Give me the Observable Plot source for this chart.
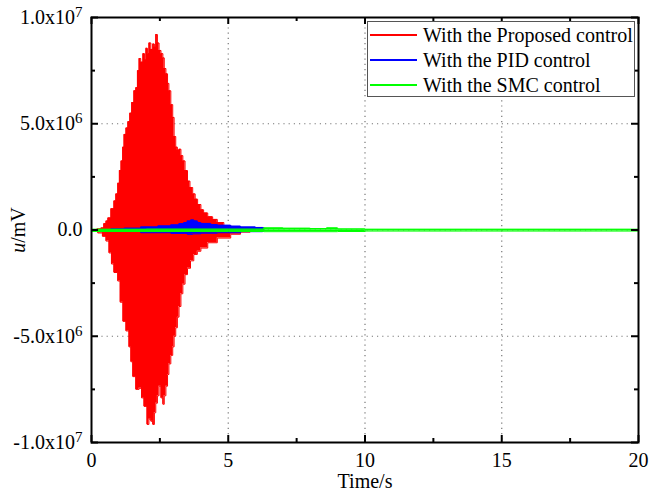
<!DOCTYPE html>
<html>
<head>
<meta charset="utf-8">
<script src="https://cdn.jsdelivr.net/npm/d3@7"></script>
<script src="https://cdn.jsdelivr.net/npm/@observablehq/plot@0.6"></script>
<style>
  body { margin: 0; background: white; }
  #wrap { position: relative; width: 649px; height: 491px; font-family: "Liberation Serif", "Times New Roman", serif; }
  #legend { position: absolute; left: 367px; top: 21px; width: 268px; height: 76px; border: 1px solid #555; background: white; box-sizing: border-box; }
  .item { position: absolute; left: 0; height: 25px; display: flex; align-items: center; font-size: 20px; color: #000; white-space: nowrap; }
  .sw { width: 47px; height: 2px; margin-left: 2px; margin-right: 6px; }
</style>
</head>
<body>
<div id="wrap"></div>
<script>
// Values in units of 1e6 mV; time in s. Envelopes.
const redUpper = [[0,0],[0.2,0.05],[0.35,0.1],[0.45,0.3],[0.53,0.42],[0.6,0.57],[0.71,1.0],[0.82,1.37],[0.89,1.7],[0.96,2.2],[1.02,2.8],[1.08,3.25],[1.14,3.9],[1.19,4.5],[1.26,4.8],[1.33,5.1],[1.4,5.5],[1.47,6.0],[1.55,6.55],[1.62,6.7],[1.68,7.5],[1.74,8.07],[1.8,7.9],[1.88,8.3],[1.94,8.0],[1.99,8.55],[2.05,8.3],[2.1,8.8],[2.17,8.5],[2.24,8.75],[2.3,8.6],[2.35,9.2],[2.41,8.8],[2.47,8.45],[2.54,8.3],[2.61,8.1],[2.66,7.6],[2.72,7.35],[2.78,6.9],[2.83,6.55],[2.9,5.9],[2.97,5.3],[3.02,4.4],[3.08,3.9],[3.14,3.75],[3.2,3.8],[3.27,3.5],[3.34,3.25],[3.42,2.8],[3.51,2.3],[3.6,2.0],[3.7,1.7],[3.79,1.45],[3.88,1.2],[4.0,0.95],[4.1,0.8],[4.25,0.62],[4.43,0.5],[4.6,0.35],[4.84,0.2],[5.1,0.12],[5.45,0.06],[5.8,0.02],[6.0,0]];
const redLower = [[0,0],[0.23,-0.14],[0.4,-0.3],[0.53,-0.52],[0.64,-1.08],[0.73,-1.6],[0.82,-2.0],[0.96,-2.4],[1.05,-3.4],[1.15,-4.3],[1.26,-4.75],[1.37,-5.5],[1.44,-6.2],[1.51,-6.9],[1.62,-7.5],[1.74,-7.45],[1.83,-7.9],[1.92,-8.3],[2.03,-9.15],[2.1,-8.9],[2.17,-9.0],[2.24,-9.15],[2.3,-8.6],[2.35,-8.15],[2.41,-7.8],[2.47,-7.35],[2.54,-7.9],[2.61,-8.2],[2.66,-7.8],[2.72,-7.35],[2.78,-6.8],[2.83,-6.3],[2.9,-5.9],[2.97,-5.5],[3.02,-5.0],[3.08,-4.6],[3.14,-4.1],[3.2,-3.6],[3.27,-3.0],[3.34,-2.55],[3.42,-2.1],[3.51,-1.8],[3.62,-1.45],[3.74,-1.15],[3.87,-1.0],[4.0,-0.85],[4.25,-0.6],[4.6,-0.38],[5.09,-0.2],[5.45,-0.1],[5.8,-0.03],[6.0,0]];
const blueUpper = [[0,0],[0.3,0.02],[0.71,0.05],[1.2,0.08],[1.8,0.14],[2.43,0.19],[2.9,0.24],[3.2,0.3],[3.38,0.35],[3.5,0.42],[3.63,0.47],[3.75,0.42],[3.88,0.35],[4.0,0.31],[4.36,0.26],[4.6,0.22],[5.09,0.18],[5.45,0.14],[6.0,0.12],[6.26,0.11],[6.3,0]];
const blueLower = [[0,0],[0.7,-0.04],[1.8,-0.13],[2.9,-0.16],[3.5,-0.2],[3.7,-0.18],[4.0,-0.15],[4.6,-0.13],[5.45,-0.08],[6.26,-0.05],[6.3,0]];
const greenUpper = [[0,0.03],[2,0.04],[5,0.04],[6.3,0.1],[7,0.08],[8,0.07],[8.6,0.1],[9,0.05],[10,0.03],[20,0.03]];
const greenLower = [[0,-0.07],[5,-0.07],[6.3,-0.08],[9,-0.07],[10,-0.05],[20,-0.05]];

const xTicks = [0, 5, 10, 15, 20];
const xMinor = [2.5, 7.5, 12.5, 17.5];
const yTicks = [-1e7, -5e6, 0, 5e6, 1e7];
const yTickLabels = ["-1.0x10^7", "-5.0x10^6", "0.0", "5.0x10^6", "1.0x10^7"];
const yMinor = [-7.5e6, -2.5e6, 2.5e6, 7.5e6];
const series = [
  {name: "With the Proposed control", color: "#ff0000"},
  {name: "With the PID control", color: "#0000ff"},
  {name: "With the SMC control", color: "#00ff00"}
];

const toRows = arr => arr.map(([t, v]) => ({t, v: v * 1e6}));

const W = 649, H = 491, mL = 91, mR = 11, mT = 17, mB = 49;
const pw = W - mL - mR, ph = H - mT - mB;

function env(up, lo, color) {
  return [
    Plot.areaY(toRows(up), {x: "t", y: "v", fill: color, curve: "step-after"}),
    Plot.areaY(toRows(lo), {x: "t", y: "v", fill: color, curve: "step-after"}),
    Plot.lineY(toRows(up), {x: "t", y: "v", stroke: color, strokeWidth: 1, curve: "step-after"}),
    Plot.lineY(toRows(lo), {x: "t", y: "v", stroke: color, strokeWidth: 1, curve: "step-after"})
  ];
}

const chart = Plot.plot({
  width: W, height: H,
  marginLeft: mL, marginRight: mR, marginTop: mT, marginBottom: mB,
  style: {fontFamily: "Liberation Serif, Times New Roman, serif", fontSize: "20px", background: "white", color: "black"},
  x: {domain: [0, 20]},
  y: {domain: [-1e7, 1e7]},
  marks: [
    Plot.gridX([5, 10, 15], {stroke: "#777", strokeOpacity: 1, strokeWidth: 1.2, strokeDasharray: "1.2,4"}),
    Plot.gridY([-5e6, 0, 5e6], {stroke: "#777", strokeOpacity: 1, strokeWidth: 1.2, strokeDasharray: "1.2,4"}),
    ...env(redUpper, redLower, series[0].color),
    ...env(blueUpper, blueLower, series[1].color),
    ...env(greenUpper, greenLower, series[2].color),
    Plot.frame({stroke: "black", strokeWidth: 2}),
    Plot.ruleX(xTicks, {stroke: "black", strokeWidth: 2, insetTop: ph - 7}),
    Plot.ruleX(xTicks, {stroke: "black", strokeWidth: 2, insetBottom: ph - 7}),
    Plot.ruleX(xMinor, {stroke: "black", strokeWidth: 2, insetTop: ph - 4}),
    Plot.ruleX(xMinor, {stroke: "black", strokeWidth: 2, insetBottom: ph - 4}),
    Plot.ruleY(yTicks, {stroke: "black", strokeWidth: 2, insetRight: pw - 7}),
    Plot.ruleY(yTicks, {stroke: "black", strokeWidth: 2, insetLeft: pw - 7}),
    Plot.ruleY(yMinor, {stroke: "black", strokeWidth: 2, insetRight: pw - 4}),
    Plot.ruleY(yMinor, {stroke: "black", strokeWidth: 2, insetLeft: pw - 4}),
    Plot.axisX(xTicks, {tickSize: 0, tickPadding: 10, label: null, fontSize: 20, tickFormat: d => String(d)}),
    Plot.axisY(yTicks, {tickSize: 0, tickPadding: 9, label: null, fontSize: 20, className: "ytl",
      tickFormat: d => yTickLabels[yTicks.indexOf(d)]}),
    Plot.text(["Time/s"], {frameAnchor: "bottom", dy: 45, lineAnchor: "bottom", fontSize: 20, fill: "black"}),
    Plot.text(["u/mV"], {frameAnchor: "left", dx: -73, rotate: -90, textAnchor: "middle", lineAnchor: "middle", fontSize: 20, fill: "black", className: "ylab"})
  ]
});

const wrap = document.getElementById("wrap");
wrap.appendChild(chart);

// superscripts for y tick labels
d3.select(chart).selectAll("text").each(function() {
  const el = d3.select(this);
  const s = this.textContent;
  if (s.includes("^")) {
    const [base, exp] = s.split("^");
    el.text(null);
    el.append("tspan").text(base);
    el.append("tspan").attr("dy", "-0.45em").attr("font-size", "15px").text(exp);
  } else if (s === "u/mV") {
    el.text(null);
    el.append("tspan").attr("font-style", "italic").text("u");
    el.append("tspan").text("/mV");
  }
});

// legend
const lg = document.createElement("div");
lg.id = "legend";
series.forEach((s, i) => {
  const it = document.createElement("div");
  it.className = "item";
  it.style.top = (0.5 + i * 25) + "px";
  const sw = document.createElement("div");
  sw.className = "sw";
  sw.style.background = s.color;
  const tx = document.createElement("span");
  tx.textContent = s.name;
  it.appendChild(sw); it.appendChild(tx);
  lg.appendChild(it);
});
wrap.appendChild(lg);
</script>
</body>
</html>
